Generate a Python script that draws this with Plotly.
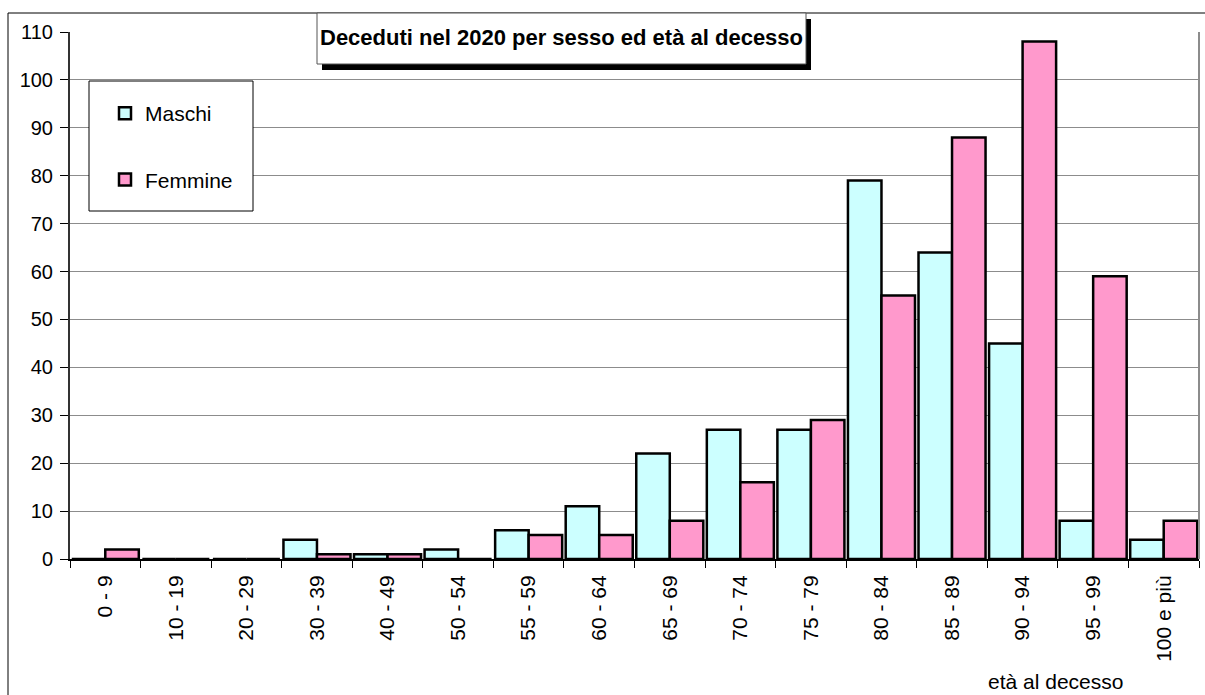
import plotly.graph_objects as go

categories = ["0 - 9", "10 - 19", "20 - 29", "30 - 39", "40 - 49", "50 - 54", "55 - 59",
              "60 - 64", "65 - 69", "70 - 74", "75 - 79", "80 - 84", "85 - 89", "90 - 94",
              "95 - 99", "100 e più"]
maschi = [0, 0, 0, 4, 1, 2, 6, 11, 22, 27, 27, 79, 64, 45, 8, 4]
femmine = [2, 0, 0, 1, 1, 0, 5, 5, 8, 16, 29, 55, 88, 108, 59, 8]
y_ticks = [0, 10, 20, 30, 40, 50, 60, 70, 80, 90, 100, 110]

W, H = 1205, 695
L, R, T, B = 70, 6, 32, 136
PW = W - L - R
PH = H - T - B


def px(x):
    return (x - L) / PW


def py(y):
    return (H - B - y) / PH


FONT = "Liberation Sans, Arial, sans-serif"

fig = go.Figure()
fig.add_trace(go.Bar(x=categories, y=maschi, name="Maschi", legendgroup="m",
                     marker=dict(color="#CCFFFF", line=dict(color="black", width=2.5))))
fig.add_trace(go.Bar(x=categories, y=femmine, name="Femmine", legendgroup="f",
                     marker=dict(color="#FF99CC", line=dict(color="black", width=2.5))))

shapes = [
    # outer chart border
    dict(type="rect", xref="paper", yref="paper", x0=px(8), x1=px(1212), y0=py(13), y1=py(702),
         line=dict(color="black", width=1), fillcolor="rgba(0,0,0,0)", layer="below"),
    # right border of plot area
    dict(type="line", xref="paper", yref="paper", x0=1, x1=1, y0=0, y1=1,
         line=dict(color="#8c8c8c", width=2), layer="above"),
    # title shadow
    dict(type="rect", xref="paper", yref="paper", x0=px(322), x1=px(811), y0=py(19), y1=py(70),
         line=dict(width=0), fillcolor="black", layer="above"),
    # title box
    dict(type="rect", xref="paper", yref="paper", x0=px(317), x1=px(806), y0=py(13), y1=py(64),
         line=dict(color="#555555", width=1), fillcolor="white", layer="above"),
    # legend box
    dict(type="rect", xref="paper", yref="paper", x0=px(89), x1=px(253), y0=py(81), y1=py(211),
         line=dict(color="black", width=1), fillcolor="white", layer="above"),
]

annotations = [
    dict(text="<b>Deceduti nel 2020 per sesso ed età al decesso</b>", xref="paper", yref="paper",
         x=px(561), y=py(38), xanchor="center", yanchor="middle", showarrow=False,
         font=dict(family=FONT, size=22, color="black")),
    dict(text="età al decesso", xref="paper", yref="paper",
         x=px(1055), y=py(681), xanchor="center", yanchor="middle", showarrow=False,
         font=dict(family=FONT, size=21, color="black")),
]

fig.update_layout(
    width=W, height=H,
    margin=dict(l=L, r=R, t=T, b=B, pad=0),
    paper_bgcolor="white", plot_bgcolor="white",
    font=dict(family=FONT, size=20, color="black"),
    barmode="group", bargap=0.05, bargroupgap=0,
    showlegend=True,
    legend=dict(x=px(105), y=py(93), xanchor="left", yanchor="top",
                bgcolor="rgba(0,0,0,0)", borderwidth=0, tracegroupgap=36,
                font=dict(family=FONT, size=21, color="black")),
    shapes=shapes, annotations=annotations,
)
fig.update_xaxes(type="category", tickson="boundaries", ticks="outside", ticklen=7,
                 tickcolor="black", tickwidth=1, tickangle=-90, showgrid=False,
                 showline=True, linecolor="black", linewidth=2, ticklabelstandoff=6,
                 tickfont=dict(family=FONT, size=21, color="black"))
fig.update_yaxes(range=[0, 110], tickvals=y_ticks, ticks="outside", ticklen=8,
                 tickcolor="black", tickwidth=1, showgrid=True, gridcolor="#8c8c8c",
                 gridwidth=1, showline=True, linecolor="#333333", linewidth=2,
                 zeroline=False, ticklabelstandoff=3,
                 tickfont=dict(family=FONT, size=20, color="black"))

fig.write_html("out.html", config={"displayModeBar": False},
               post_script="document.body.style.margin='0';document.body.style.overflow='hidden';")
